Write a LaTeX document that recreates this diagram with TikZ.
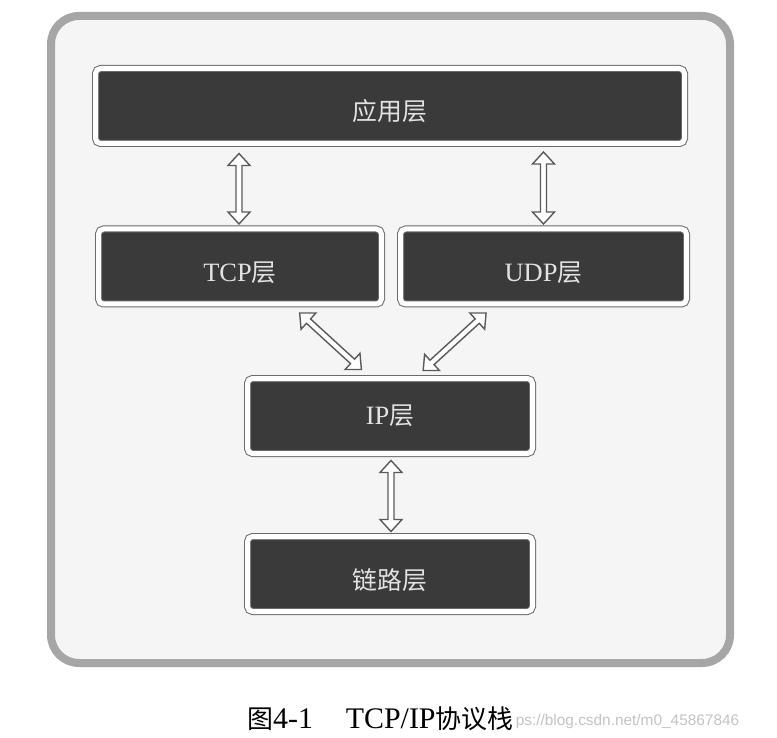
\documentclass[tikz,border=0pt]{standalone}
\usepackage{fontspec}
\setmainfont{Liberation Serif}[Scale=1.15]
\newfontfamily\cjk{Noto Sans CJK SC}[Scale=1.08]
\newfontfamily\wmfont{Liberation Sans}
\usetikzlibrary{calc}
\definecolor{boxdark}{HTML}{3A3A3A}
\definecolor{boxedge}{HTML}{6A6A6A}
\definecolor{labeltext}{HTML}{E2E2E2}
\definecolor{framegray}{HTML}{A6A6A6}
\definecolor{framefill}{HTML}{F5F5F5}
\definecolor{arrowedge}{HTML}{5A5A5A}
\definecolor{wmgray}{HTML}{C4C4C4}
\tikzset{
  layer/.style={rectangle, rounded corners=5pt, fill=boxdark, draw=boxedge,
    line width=1pt, double=white, double distance=5pt, text=labeltext,
    font=\fontsize{23}{23}\selectfont, minimum height=75pt, inner sep=0pt},
  lowtext/.style={text height=30pt, text depth=0pt},
  hollow/.style={draw=arrowedge, line width=1.4pt, fill=white, line join=miter},
  frame/.style={draw=framegray, line width=8pt, fill=framefill, rounded corners=28pt},
  captionstyle/.style={anchor=base west, inner sep=0pt, text=black},
  wmstyle/.style={anchor=base west, inner sep=0pt, text=wmgray, font=\wmfont\fontsize{15.4}{15.4}\selectfont}
}
\newcommand\harrow[2]{%
  \draw[hollow] (#1)
    -- ($(#1)!12pt!(#2)!11pt!90:(#2)$)
    -- ($(#1)!12pt!(#2)!3pt!90:(#2)$)
    -- ($(#2)!12pt!(#1)!3pt!-90:(#1)$)
    -- ($(#2)!12pt!(#1)!11pt!-90:(#1)$)
    -- (#2)
    -- ($(#2)!12pt!(#1)!11pt!90:(#1)$)
    -- ($(#2)!12pt!(#1)!3pt!90:(#1)$)
    -- ($(#1)!12pt!(#2)!3pt!-90:(#2)$)
    -- ($(#1)!12pt!(#2)!11pt!-90:(#2)$)
    -- cycle;}
\newcommand\capcjk[1]{{\fontsize{24}{24}\selectfont\cjk #1}}
\begin{document}
\begin{tikzpicture}[x=1pt,y=-1pt]
\useasboundingbox (0,0) rectangle (777,738);
\fill[white] (0,0) rectangle (777,738);
\draw[frame] (51,16) rectangle (730,663);

\node[layer, lowtext, minimum width=589pt] (top) at (390,106) {\cjk 应用层};
\node[layer, lowtext, minimum width=283pt] (tcp) at (240,266.5) {TCP{\cjk 层}};
\node[layer, lowtext, minimum width=286pt] (udp) at (543.5,266.5) {UDP{\cjk 层}};
\node[layer, minimum width=285pt] (ip) at (390,416) {IP{\cjk 层}};
\node[layer, lowtext, minimum width=285pt] (link) at (390,574) {\cjk 链路层};

\coordinate (a1s) at ($(tcp.north |- top.south)+(-1,9.5)$);
\coordinate (a1e) at ($(tcp.north)+(-1,-4.5)$);
\coordinate (a2s) at ($(udp.north |- top.south)+(0,8)$);
\coordinate (a2e) at ($(udp.north)+(0,-4.5)$);
\coordinate (a3s) at ($(tcp.south west)!0.71!(tcp.south east)+(0,8.5)$);
\coordinate (a3e) at ($(ip.north west)!0.40!(ip.north east)+(0,-8.5)$);
\coordinate (a4s) at ($(udp.south west)!0.30!(udp.south east)+(0,8.5)$);
\coordinate (a4e) at ($(ip.north west)!0.616!(ip.north east)+(0,-7.5)$);
\coordinate (a5s) at ($(ip.south)+(1,6.5)$);
\coordinate (a5e) at ($(link.north)+(1,-4.5)$);

\harrow{a1s}{a1e}
\harrow{a2s}{a2e}
\harrow{a3s}{a3e}
\harrow{a4s}{a4e}
\harrow{a5s}{a5e}

\node[captionstyle] (cap) at (247,728) {\fontsize{26}{26}\selectfont\capcjk{图}4-1\hspace{1.1em}TCP/IP\capcjk{协议栈}};
\node[wmstyle] (wm) at ($(cap.base east)+(2,-3)$) {ps://blog.csdn.net/m0\_45867846};
\end{tikzpicture}
\end{document}
